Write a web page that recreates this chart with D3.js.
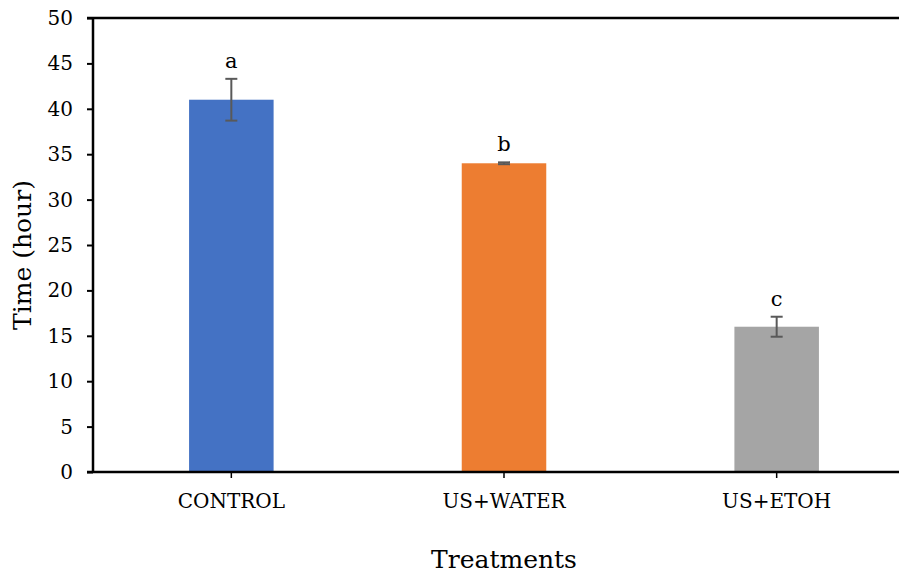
<!DOCTYPE html>
<html>
<head>
<meta charset="utf-8">
<script src="https://cdn.jsdelivr.net/npm/d3@7"></script>
<style>
  body { margin: 0; background: #fff; }
  svg text { font-family: "DejaVu Serif", "Liberation Serif", serif; fill: #000; }
</style>
</head>
<body>
<div id="chart"></div>
<script>
var treatments = ["CONTROL", "US+WATER", "US+ETOH"];
var times = [41, 34, 16];
var errors = [2.3, 0.1, 1.1];
var letters = ["a", "b", "c"];
var colors = ["#4472C4", "#ED7D31", "#A5A5A5"];
var yTicks = [0, 5, 10, 15, 20, 25, 30, 35, 40, 45, 50];

var width = 899, height = 573;
var plotLeft = 93, plotTop = 18, plotBottom = 472;

var svg = d3.select("#chart").append("svg")
    .attr("width", width)
    .attr("height", height);

// band range runs past the right edge, the reference is cropped there
var x = d3.scaleBand()
    .domain(treatments)
    .range([plotLeft + 2, 913])
    .paddingInner(0.69)
    .paddingOuter(0.345);

var y = d3.scaleLinear()
    .domain([0, 50])
    .range([plotBottom, plotTop]);

var data = treatments.map(function(t, i) {
  return {name: t, value: times[i], err: errors[i], letter: letters[i], color: colors[i]};
});

// bars
svg.selectAll(".bar")
    .data(data)
  .enter().append("rect")
    .attr("class", "bar")
    .attr("x", function(d) { return x(d.name); })
    .attr("width", x.bandwidth())
    .attr("y", function(d) { return y(d.value); })
    .attr("height", function(d) { return plotBottom - y(d.value); })
    .style("fill", function(d) { return d.color; });

// error bars
var eb = svg.selectAll(".err")
    .data(data)
  .enter().append("g")
    .attr("class", "err")
    .attr("transform", function(d) { return "translate(" + (x(d.name) + x.bandwidth() / 2) + ",0)"; })
    .style("stroke", "#595959")
    .style("stroke-width", 2);

eb.append("line")
    .attr("y1", function(d) { return y(d.value + d.err); })
    .attr("y2", function(d) { return y(d.value - d.err); });
eb.append("line")
    .attr("x1", -6).attr("x2", 6)
    .attr("y1", function(d) { return y(d.value + d.err); })
    .attr("y2", function(d) { return y(d.value + d.err); });
eb.append("line")
    .attr("x1", -6).attr("x2", 6)
    .attr("y1", function(d) { return y(d.value - d.err); })
    .attr("y2", function(d) { return y(d.value - d.err); });

// significance letters
svg.selectAll(".letter")
    .data(data)
  .enter().append("text")
    .attr("class", "letter")
    .attr("x", function(d) { return x(d.name) + x.bandwidth() / 2; })
    .attr("y", function(d) { return y(d.value + d.err) - 11; })
    .style("text-anchor", "middle")
    .style("font-size", "21px")
    .text(function(d) { return d.letter; });

// y axis
var yAxis = svg.append("g")
    .attr("transform", "translate(" + plotLeft + ",0)")
    .call(d3.axisLeft(y).tickValues(yTicks).tickSize(6).tickPadding(14));
yAxis.select(".domain").attr("stroke-width", 2.5).attr("d", "M0," + plotTop + "V" + plotBottom);
yAxis.selectAll(".tick line").attr("stroke-width", 2);
yAxis.selectAll(".tick text").style("font-size", "20px");

// top border at 50
svg.append("line")
    .attr("x1", plotLeft - 6).attr("x2", width)
    .attr("y1", y(50)).attr("y2", y(50))
    .style("stroke", "#000")
    .style("stroke-width", 2.5);

// x axis
var xAxis = svg.append("g")
    .attr("transform", "translate(0," + plotBottom + ")")
    .call(d3.axisBottom(x).tickSize(6).tickPadding(16));
xAxis.select(".domain").attr("stroke-width", 2.5).attr("d", "M" + (plotLeft - 6) + ",0H" + width);
xAxis.selectAll(".tick line").attr("stroke-width", 1.5);
xAxis.selectAll(".tick text").style("font-size", "20px");

// axis titles
svg.append("text")
    .attr("transform", "translate(31," + ((plotTop + plotBottom) / 2 + 10) + ") rotate(-90)")
    .style("text-anchor", "middle")
    .style("font-size", "25px")
    .text("Time (hour)");

svg.append("text")
    .attr("x", x("US+WATER") + x.bandwidth() / 2)
    .attr("y", 568)
    .style("text-anchor", "middle")
    .style("font-size", "25px")
    .text("Treatments");
</script>
</body>
</html>
